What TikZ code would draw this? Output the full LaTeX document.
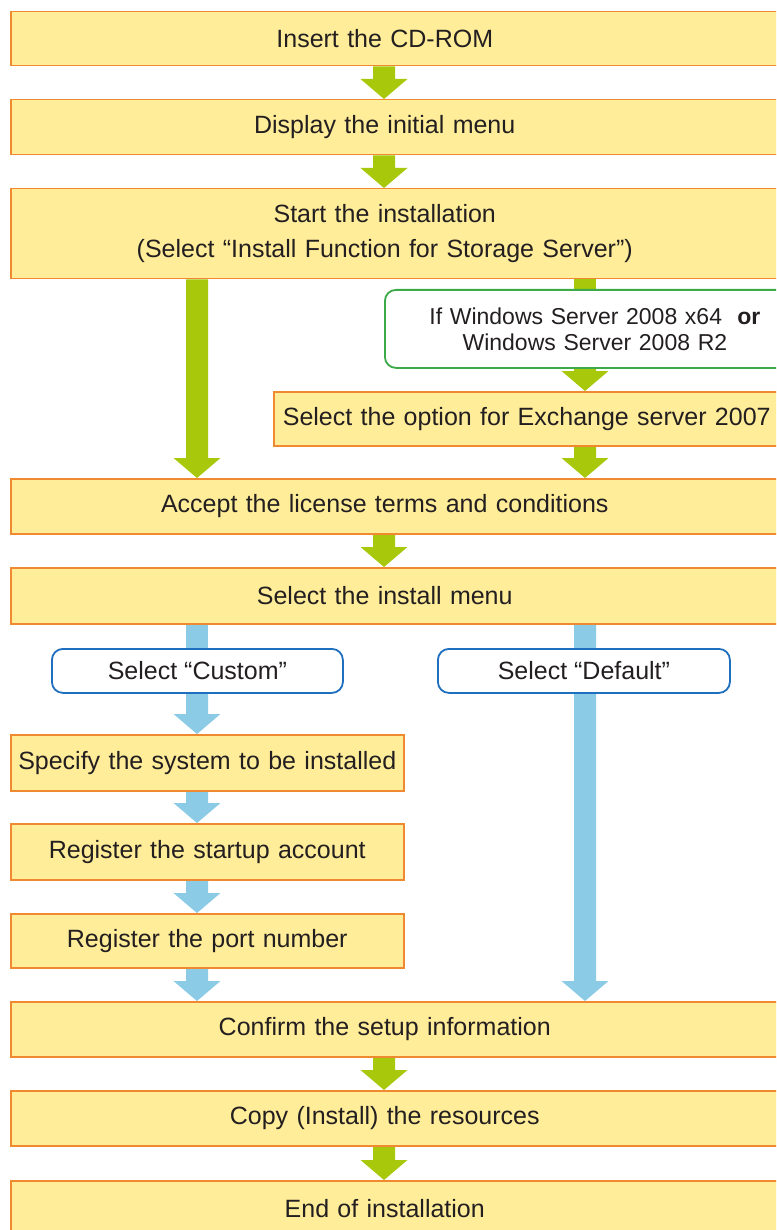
\documentclass[tikz,border=0pt]{standalone}
\usepackage{fontspec}
\setmainfont{Liberation Sans}
\usetikzlibrary{calc,backgrounds}
\definecolor{yfill}{HTML}{FFED99}
\definecolor{oline}{HTML}{F08A30}
\definecolor{garrow}{HTML}{A8C80C}
\definecolor{barrow}{HTML}{8CCBE6}
\definecolor{gline}{HTML}{3CAA48}
\definecolor{bline}{HTML}{1F6FBF}
\definecolor{txt}{HTML}{231F20}
\newcommand\ctext[1]{\makebox[748pt][c]{#1}}
\newcommand\lctext[1]{\makebox[393pt][c]{#1}}
\newcommand\fatarrow[3]{\fill[#1] let \p1=(#2), \p2=(#3) in
  (\x1-11pt,\y1) -- (\x1-11pt,\y2+20pt) -- (\x1-23.5pt,\y2+20pt) -- (\x1,\y2)
  -- (\x1+23.5pt,\y2+20pt) -- (\x1+11pt,\y2+20pt) -- (\x1+11pt,\y1) -- cycle;}
\newcommand\fatshaft[3]{\fill[#1] let \p1=(#2), \p2=(#3) in
  (\x1-11pt,\y1) rectangle (\x1+11pt,\y2);}
\tikzset{
  ybox/.style={draw=oline, fill=yfill, line width=1.5pt, text=txt,
    font=\fontsize{25}{35}\selectfont, inner xsep=0pt, inner ysep=0pt,
    anchor=north west, align=left},
  widebox/.style={ybox, text width=790pt},
  leftbox/.style={ybox, text width=393pt},
  rbox/.style={draw=#1, fill=white, line width=1.8pt, rounded corners=11pt,
    text=txt, inner sep=0pt, anchor=north west, align=center},
}
\begin{document}
\begin{tikzpicture}[x=1pt,y=1pt]
\useasboundingbox (0,0) rectangle (776,-1230);
\clip (0,0) rectangle (776,-1230);
\coordinate (mcol) at (384,0);
\coordinate (lcol) at (197,0);
\coordinate (rcol) at (585,0);

\node[widebox, minimum height=54pt] (b1) at (10,-11) {\ctext{Insert the CD-ROM}};
\node[widebox, minimum height=55pt] (b2) at (10,-99) {\ctext{Display the initial menu}};
\node[widebox, minimum height=90pt] (b3) at (10,-188) {\ctext{Start the installation}\\\ctext{(Select “Install Function for Storage Server”)}};
\node[rbox=gline, minimum height=78pt, text width=420pt, font=\fontsize{23}{26}\selectfont] (win) at (384,-289)
  {If Windows Server 2008 x64\ \ \textbf{or}\\Windows Server 2008 R2};
\node[ybox, minimum height=54pt, text width=506pt, align=center] (exch) at (273,-391) {Select the option for Exchange server 2007};
\node[widebox, minimum height=55pt] (acc) at (10,-478) {\ctext{Accept the license terms and conditions}};
\node[widebox, minimum height=56pt] (inst) at (10,-567) {\ctext{Select the install menu}};
\node[rbox=bline, minimum height=44pt, minimum width=291pt, font=\fontsize{25}{30}\selectfont] (cust) at (51,-648) {Select “Custom”};
\node[rbox=bline, minimum height=44pt, minimum width=292pt, font=\fontsize{25}{30}\selectfont] (defl) at (437,-648) {Select “Default”};
\node[leftbox, minimum height=56pt] (spec) at (10,-734) {\lctext{Specify the system to be installed}};
\node[leftbox, minimum height=56pt] (acct) at (10,-823) {\lctext{Register the startup account}};
\node[leftbox, minimum height=54pt] (port) at (10,-913) {\lctext{Register the port number}};
\node[widebox, minimum height=55pt] (conf) at (10,-1001) {\ctext{Confirm the setup information}};
\node[widebox, minimum height=55pt] (copy) at (10,-1090) {\ctext{Copy (Install) the resources}};
\node[widebox, minimum height=56pt] (endi) at (10,-1180) {\ctext{End of installation}};

\begin{pgfonlayer}{background}
\fatarrow{garrow}{b1.south -| mcol}{b2.north -| mcol}
\fatarrow{garrow}{b2.south -| mcol}{b3.north -| mcol}
\fatarrow{garrow}{b3.south -| lcol}{acc.north -| lcol}
\fatshaft{garrow}{b3.south -| rcol}{win.north -| rcol}
\fatarrow{garrow}{win.south -| rcol}{exch.north -| rcol}
\fatarrow{garrow}{exch.south -| rcol}{acc.north -| rcol}
\fatarrow{garrow}{acc.south -| mcol}{inst.north -| mcol}
\fatshaft{barrow}{inst.south -| lcol}{cust.north -| lcol}
\fatarrow{barrow}{inst.south -| rcol}{conf.north -| rcol}
\fatarrow{barrow}{cust.south -| lcol}{spec.north -| lcol}
\fatarrow{barrow}{spec.south -| lcol}{acct.north -| lcol}
\fatarrow{barrow}{acct.south -| lcol}{port.north -| lcol}
\fatarrow{barrow}{port.south -| lcol}{conf.north -| lcol}
\fatarrow{garrow}{conf.south -| mcol}{copy.north -| mcol}
\fatarrow{garrow}{copy.south -| mcol}{endi.north -| mcol}
\end{pgfonlayer}
\end{tikzpicture}
\end{document}
